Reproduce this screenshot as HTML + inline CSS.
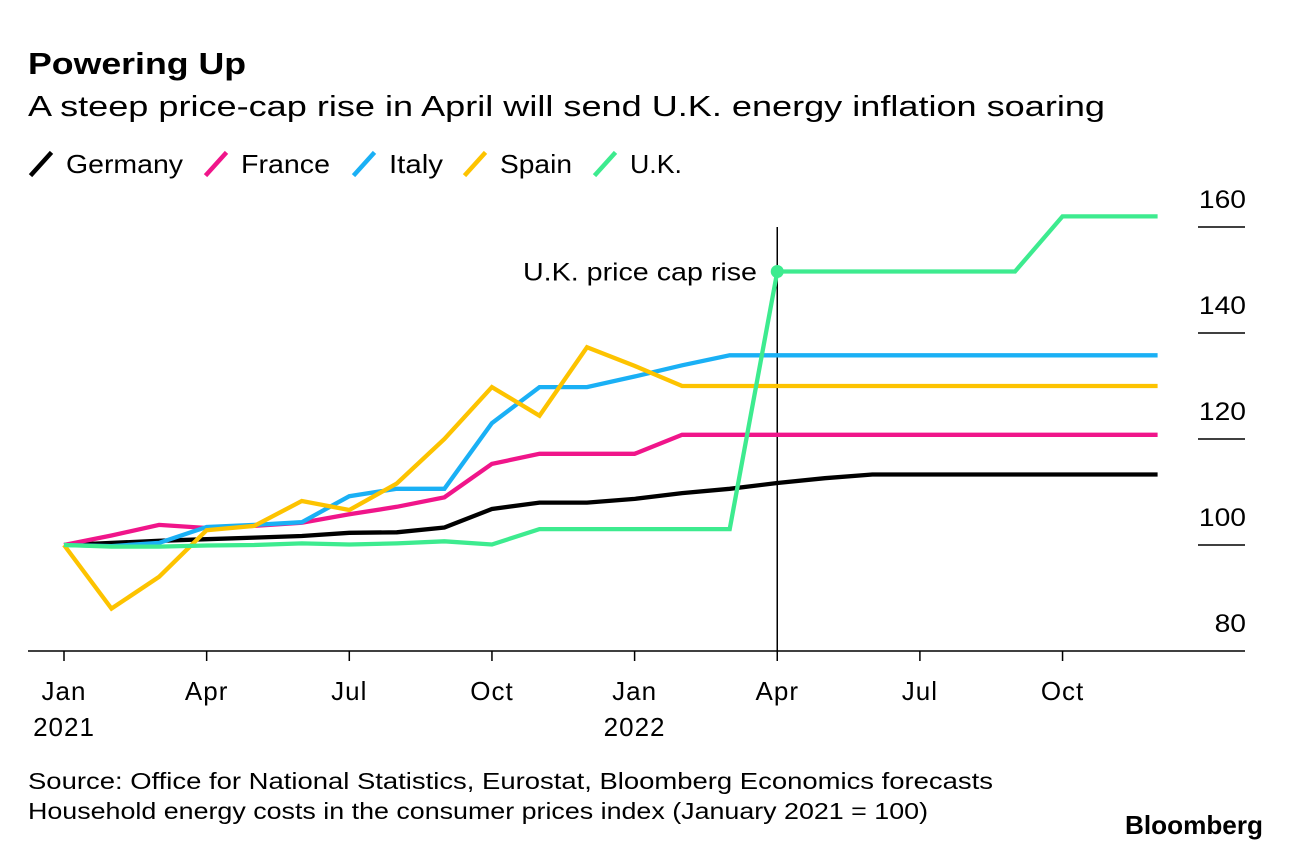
<!DOCTYPE html>
<html><head><meta charset="utf-8">
<style>
body{margin:0;background:#fff;width:1292px;height:850px;overflow:hidden;font-family:"Liberation Sans",Arial,sans-serif;}
svg text{font-family:"Liberation Sans",Arial,sans-serif;}
</style></head>
<body>
<svg id="chart" width="1292" height="850" xmlns="http://www.w3.org/2000/svg">
<text x="28" y="74" font-size="31" font-weight="bold" fill="#000" textLength="218" lengthAdjust="spacingAndGlyphs">Powering Up</text>
<text x="28" y="116" font-size="29" fill="#000" textLength="1077" lengthAdjust="spacingAndGlyphs">A steep price-cap rise in April will send U.K. energy inflation soaring</text>
<g id="legend"></g>
<g id="axes"></g>
<g id="series"></g>
<text x="28" y="789" font-size="23" fill="#000" textLength="965" lengthAdjust="spacingAndGlyphs">Source: Office for National Statistics, Eurostat, Bloomberg Economics forecasts</text>
<text x="28" y="819" font-size="23" fill="#000" textLength="900" lengthAdjust="spacingAndGlyphs">Household energy costs in the consumer prices index (January 2021 = 100)</text>
<text x="1125" y="834" font-size="26" font-weight="bold" fill="#000" textLength="138" lengthAdjust="spacingAndGlyphs">Bloomberg</text>
</svg>
<script>
const seriesNames = ["Germany","France","Italy","Spain","U.K."];
const seriesColors = ["#000000","#f0158a","#1ab0f5","#fdc300","#3deb8f"];
const germany = [100,100.4,100.8,101.1,101.4,101.7,102.3,102.4,103.3,106.8,108,108,108.7,109.8,110.6,111.7,112.6,113.3,113.3,113.3,113.3,113.3,113.3,113.3];
const france = [100,101.8,103.8,103.2,103.6,104.2,105.8,107.2,109,115.3,117.2,117.2,117.2,120.8,120.8,120.8,120.8,120.8,120.8,120.8,120.8,120.8,120.8,120.8];
const italy = [100,99.8,100.4,103.4,103.8,104.3,109.2,110.6,110.6,123,129.8,129.8,131.8,133.9,135.8,135.8,135.8,135.8,135.8,135.8,135.8,135.8,135.8,135.8];
const spain = [100,88,94,102.8,103.6,108.3,106.6,111.6,120,129.8,124.4,137.3,133.8,130,130,130,130,130,130,130,130,130,130,130];
const uk = [100,99.7,99.7,99.9,100,100.3,100.1,100.3,100.7,100.1,103,103,103,103,103,151.6,151.6,151.6,151.6,151.6,151.6,162,162,162];
const yTicks = [80,100,120,140,160];
const xTickMonths = [0,3,6,9,12,15,18,21];
const xTickLabels = [["Jan","2021"],["Apr"],["Jul"],["Oct"],["Jan","2022"],["Apr"],["Jul"],["Oct"]];
const annotationMonth = 15;
const annotationLabel = "U.K. price cap rise";

const NS="http://www.w3.org/2000/svg";
const xS = m => 64 + m*47.55;
const yS = v => 545 - (v-100)*5.3;
function mk(tag, attrs, parent, text){const e=document.createElementNS(NS,tag);for(const k in attrs)e.setAttribute(k,attrs[k]);if(text!==undefined)e.textContent=text;parent.appendChild(e);return e;}
const axes=document.getElementById('axes'), ser=document.getElementById('series'), leg=document.getElementById('legend');

// legend
const legX=[30,205,353,464,594];
const legTW=[117,89,54,72,52];
seriesNames.forEach((n,i)=>{
  const lx=legX[i];
  const g=mk('g',{},leg);
  
  
  mk('line',{x1:lx+2,y1:174,x2:lx+20,y2:154,stroke:seriesColors[i],'stroke-width':4.5,'stroke-linecap':'square'},g);
  mk('text',{x:lx+36,y:173,'font-size':26,fill:'#000',textLength:legTW[i],lengthAdjust:'spacingAndGlyphs'},g,n);
});

// y axis
yTicks.forEach(v=>{
  const y=yS(v);
  if(v!==80){const l=mk('line',{x1:1198,y1:y,x2:1245,y2:y,stroke:'#000','stroke-width':1.5},axes);
  
  }
  const s=String(v);
  const t=mk('text',{x:1246,y:y-19,'font-size':25,'text-anchor':'end',fill:'#000',textLength:s.length*15.7,lengthAdjust:'spacingAndGlyphs'},axes,s);
  
  
});
// x axis
const xa=mk('line',{x1:28,y1:651,x2:1245,y2:651,stroke:'#000','stroke-width':1.5},axes);


xTickMonths.forEach((m,i)=>{
  const x=xS(m);
  mk('line',{x1:x,y1:651,x2:x,y2:661,stroke:'#000','stroke-width':1.5},axes);
  xTickLabels[i].forEach((s,j)=>{
    const t=mk('text',{x:x,y:700+j*36,'font-size':26,'text-anchor':'middle',fill:'#000','letter-spacing':1},axes,s);
    
    
  });
});
// annotation line
const ax=xS(annotationMonth);
const vl=mk('line',{x1:ax,y1:227,x2:ax,y2:651,stroke:'#000','stroke-width':1.5},axes);



// series
[germany,france,italy,spain,uk].forEach((arr,i)=>{
  const d=arr.map((v,m)=>(m?'L':'M')+xS(m).toFixed(1)+','+yS(v).toFixed(1)).join(' ');
  const p=mk('path',{d:d,fill:'none',stroke:seriesColors[i],'stroke-width':4.3,'stroke-linejoin':'miter'},ser);
  
  
});
const dot=mk('circle',{cx:ax,cy:yS(uk[annotationMonth]),r:6.5,fill:seriesColors[4]},ser);


const al=mk('text',{x:523,y:yS(uk[annotationMonth])+9,'font-size':25,fill:'#000',textLength:234,lengthAdjust:'spacingAndGlyphs'},ser,annotationLabel);


</script>
</body></html>
